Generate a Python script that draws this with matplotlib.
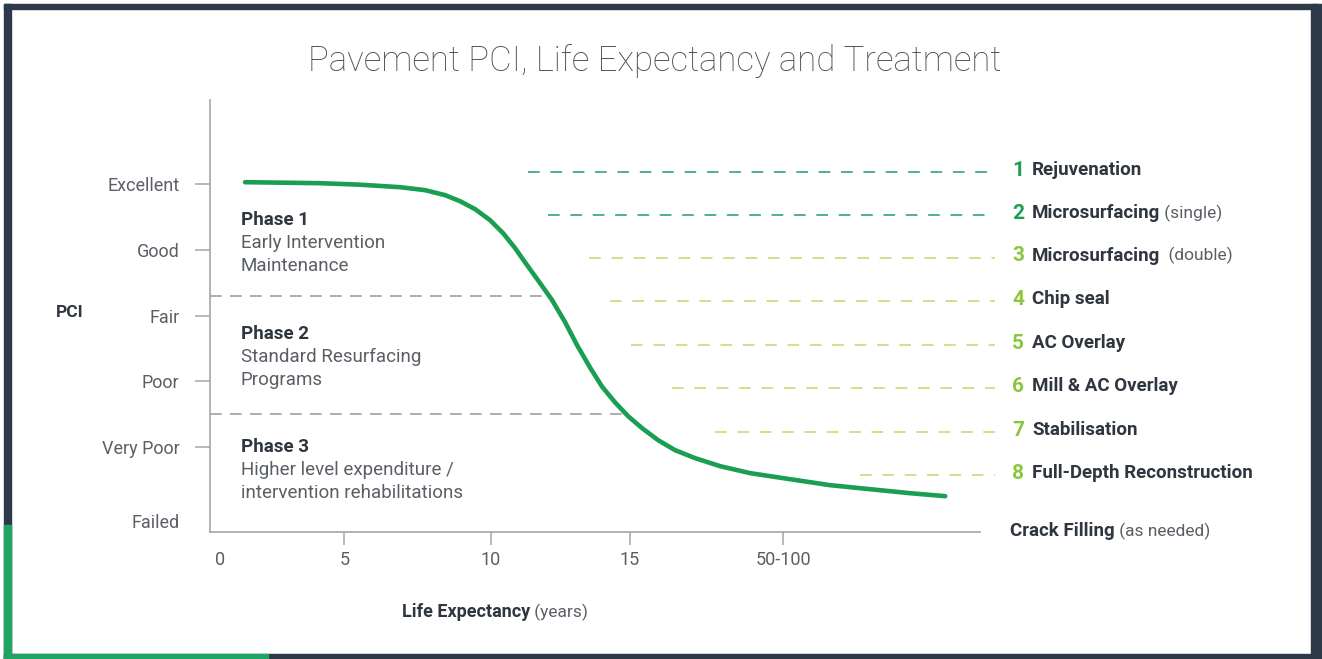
import numpy as np
import matplotlib
matplotlib.use("Agg")
import matplotlib.pyplot as plt
from matplotlib.patches import Rectangle

# ---- data ----
pci_levels = ["Excellent", "Good", "Fair", "Poor", "Very Poor", "Failed"]
pci_values = [5, 4, 3, 2, 1, -0.15]

x_tick_labels = ["0", "5", "10", "15", "50-100"]
x_tick_values = [0, 4.55, 9.9, 15, 20.6]

# deterioration curve (position along life axis, PCI level)
curve_x = [0.915, 2.195, 3.659, 5.123, 6.586, 7.501, 8.233, 8.782, 9.330, 9.879,
           10.355, 10.794, 11.233, 11.709, 12.148, 12.623, 13.062, 13.538, 13.977,
           14.453, 14.929, 15.441, 16.027, 16.649, 17.380, 18.295, 19.393, 20.856,
           22.320, 23.783, 25.247, 26.528]
curve_y = [5.030, 5.023, 5.015, 4.992, 4.954, 4.909, 4.833, 4.741, 4.620, 4.452,
           4.255, 4.027, 3.768, 3.494, 3.236, 2.901, 2.551, 2.210, 1.920,
           1.680, 1.471, 1.289, 1.106, 0.954, 0.833, 0.711, 0.605, 0.513,
           0.422, 0.361, 0.300, 0.255]

# phase dividers: level and where they meet the curve
phase_levels = [3.30, 1.50]
phase_ends = [12.0, 14.86]

phase_titles = ["Phase 1", "Phase 2", "Phase 3"]
phase_lines = [["Early Intervention", "Maintenance"],
               ["Standard Resurfacing", "Programs"],
               ["Higher level expenditure /", "intervention rehabilitations"]]
phase_top = [4.45, 2.72, 1.0]

treat_num = ["1", "2", "3", "4", "5", "6", "7", "8"]
treat_name = ["Rejuvenation", "Microsurfacing", "Microsurfacing", "Chip seal",
              "AC Overlay", "Mill & AC Overlay", "Stabilisation",
              "Full-Depth Reconstruction"]
treat_note = ["", "(single)", " (double)", "", "", "", "", ""]
treat_level = [5.18, 4.53, 3.88, 3.22, 2.55, 1.90, 1.23, 0.57]
treat_start = [11.27, 12.0, 13.5, 14.25, 15.05, 16.55, 18.1, 23.4]
treat_end = 28.35

# ---- style ----
dark = "#2e3a4a"
text_dark = "#2f3640"
text_grey = "#5a5f66"
green = "#1a9e52"
teal = "#4ab48c"
lime = "#8cc63f"
lime_dash = "#d2df8a"
axis_grey = "#a5a5a5"
font = "Roboto"

fig = plt.figure(figsize=(13.22, 6.59), dpi=100)
fig.patch.set_facecolor("white")

# frame
fig.patches.append(Rectangle((0.003, 0.987), 0.994, 0.007, transform=fig.transFigure,
                             color=dark, zorder=0))
fig.patches.append(Rectangle((0.003, 0.0), 0.0055, 0.994, transform=fig.transFigure,
                             color=dark, zorder=0))
fig.patches.append(Rectangle((0.992, 0.0), 0.008, 0.994, transform=fig.transFigure,
                             color=dark, zorder=0))
fig.patches.append(Rectangle((0.003, 0.0), 0.994, 0.008, transform=fig.transFigure,
                             color=dark, zorder=0))
fig.patches.append(Rectangle((0.003, 0.0), 0.0055, 0.203, transform=fig.transFigure,
                             color="#1fa463", zorder=1))
fig.patches.append(Rectangle((0.003, 0.0), 0.2, 0.008, transform=fig.transFigure,
                             color="#1fa463", zorder=1))

ax = fig.add_axes([210 / 1322, 1 - 532 / 659, 770 / 1322, 432 / 659])
ax.set_xlim(-0.366, 27.8)
ax.set_ylim(-0.29, 6.28)
for s in ["top", "right"]:
    ax.spines[s].set_visible(False)
for s in ["left", "bottom"]:
    ax.spines[s].set_color(axis_grey)
    ax.spines[s].set_linewidth(1.2)

ax.set_yticks(pci_values[:5])
ax.set_yticklabels(pci_levels[:5], fontsize=13, color=text_grey, family=font)
ax.tick_params(axis="y", length=11, width=1.1, color=axis_grey, pad=11)
ax.text(-0.366 - 1.1, pci_values[5], pci_levels[5], ha="right", va="center",
        fontsize=13, color=text_grey, family=font, clip_on=False)

ax.set_xticks(x_tick_values[1:])
ax.set_xticklabels([])
ax.tick_params(axis="x", length=9.5, width=1.1, color=axis_grey)
for xv, lab in zip(x_tick_values, x_tick_labels):
    ax.text(xv, -0.72, lab, ha="center", va="center", fontsize=13,
            color=text_grey, family=font, clip_on=False)

# curve
ax.plot(curve_x, curve_y, color=green, lw=3.3, solid_capstyle="round",
        solid_joinstyle="round", zorder=5)

# phase dividers
for lv, xe in zip(phase_levels, phase_ends):
    ax.plot([-0.366, xe], [lv, lv], color="#a0a0a0", lw=1.2, dashes=(7, 5), zorder=2)

for title, lines, top in zip(phase_titles, phase_lines, phase_top):
    ax.text(0.75, top, title, ha="left", va="center", fontsize=13.5,
            fontweight="bold", color=text_dark, family=font)
    for i, ln in enumerate(lines):
        ax.text(0.75, top - 0.35 * (i + 1), ln, ha="left", va="center",
                fontsize=13.5, color=text_grey, family=font)

# treatments
for i in range(len(treat_num)):
    dcol = teal if i < 2 else lime_dash
    ncol = green if i < 2 else lime
    ax.plot([treat_start[i], treat_end], [treat_level[i], treat_level[i]],
            color=dcol, lw=1.4, dashes=(6, 5.5), clip_on=False, zorder=2)
    ax.text(29.2, treat_level[i] + 0.03, treat_num[i], ha="center", va="center",
            fontsize=15, fontweight="bold", color=ncol, family=font,
            clip_on=False)
    t = ax.annotate(treat_name[i], xy=(29.7, treat_level[i] + 0.03), ha="left",
                    va="center", fontsize=13.5, fontweight="bold", color=text_dark,
                    family=font, annotation_clip=False)
    if treat_note[i]:
        ax.annotate(" " + treat_note[i], xycoords=t, xy=(1, 0.5), ha="left",
                    va="center", fontsize=12.5, color=text_grey, family=font)

t = ax.annotate("Crack Filling", xy=(28.9, -0.278), ha="left", va="center",
                fontsize=13.5, fontweight="bold", color=text_dark, family=font,
                annotation_clip=False)
ax.annotate(" (as needed)", xycoords=t, xy=(1, 0.5), ha="left", va="center",
            fontsize=12.5, color=text_grey, family=font)

# axis titles
fig.text(70 / 1322, 1 - 313 / 659, "PCI", ha="center", va="center", fontsize=12.5,
         fontweight="bold", color=text_dark, family=font)
t = fig.text(402 / 1322, 1 - 612 / 659, "Life Expectancy", ha="left", va="center",
             fontsize=13, fontweight="bold", color=text_dark, family=font)
ax.annotate(" (years)", xycoords=t, xy=(1, 0.5), ha="left", va="center",
            fontsize=12.5, color=text_grey, family=font)

fig.text(655 / 1322, 1 - 61 / 659, "Pavement PCI, Life Expectancy and Treatment",
         ha="center", va="center", fontsize=25, fontweight="light",
         color="#4a4f55", family=font)

fig.savefig("out.png", dpi=100)
